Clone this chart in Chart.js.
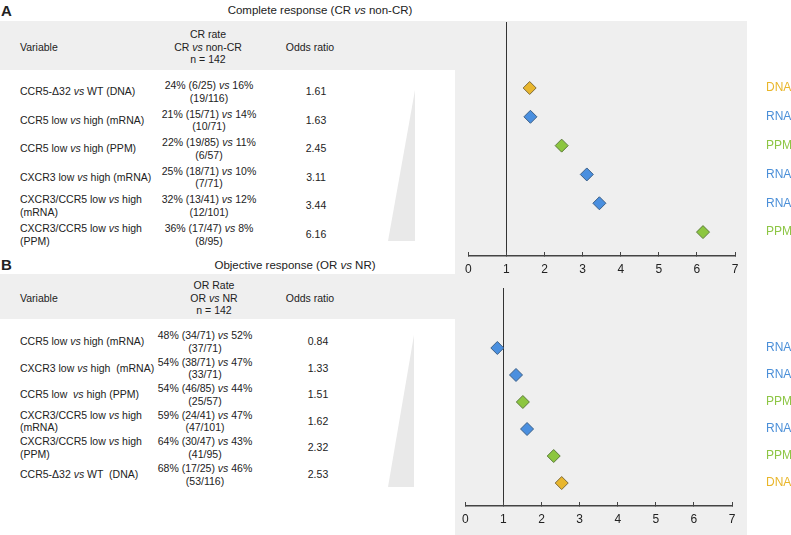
<!DOCTYPE html>
<html>
<head>
<meta charset="utf-8">
<script src="https://cdn.jsdelivr.net/npm/chart.js@4.4.0/dist/chart.umd.min.js"></script>
<style>
  body { margin: 0; background: #fff; font-family: "Liberation Sans", Arial, sans-serif; color: #222; }
  #fig { position: relative; width: 791px; height: 535px; overflow: hidden; }
  .abs { position: absolute; }
  .gray { background: #efefef; }
  .wedge { background: #e9e9e9; }
  .letter { font-weight: bold; font-size: 15px; line-height: 15px; }
  .title { font-size: 11.5px; line-height: 14px; white-space: nowrap; transform: translate(-50%, -50%); }
  .cell { font-size: 10.5px; line-height: 12.5px; white-space: pre; transform: translateY(-50%); }
  .ctr { text-align: center; transform: translate(-50%, -50%); }
  canvas { position: absolute; }
</style>
</head>
<body>
<div id="fig">
  <div class="abs gray" style="left:0;top:21px;width:455px;height:49px"></div>
  <div class="abs gray" style="left:455px;top:21px;width:292px;height:514px"></div>
  <div class="abs gray" style="left:0;top:274px;width:455px;height:45px"></div>
  <div class="abs wedge" style="left:388px;top:90px;width:27px;height:151px;clip-path:polygon(100% 0,100% 100%,0 100%)"></div>
  <div class="abs wedge" style="left:388px;top:335px;width:26px;height:152px;clip-path:polygon(100% 0,100% 100%,0 100%)"></div>

  <div class="abs letter" style="left:1px;top:3px">A</div>
  <div class="abs title" style="left:320px;top:10px">Complete response (CR <i>vs</i> non-CR)</div>
  <div class="abs letter" style="left:1px;top:257px">B</div>
  <div class="abs title" style="left:295px;top:265px">Objective response (OR <i>vs</i> NR)</div>

  <div id="tableA"></div>
  <div id="tableB"></div>
  <canvas id="chartA" width="336" height="264" style="left:455px;top:21px"></canvas>
  <canvas id="chartB" width="339" height="260" style="left:452px;top:275px"></canvas>
</div>
<script>
// panel A: complete response
const variablesA = ['CCR5-\u039432 vs WT (DNA)', 'CCR5 low vs high (mRNA)', 'CCR5 low vs high (PPM)',
  'CXCR3 low vs high (mRNA)', 'CXCR3/CCR5 low vs high\n(mRNA)', 'CXCR3/CCR5 low vs high\n(PPM)'];
const ratesA = ['24% (6/25) vs 16%\n(19/116)', '21% (15/71) vs 14%\n(10/71)', '22% (19/85) vs 11%\n(6/57)',
  '25% (18/71) vs 10%\n(7/71)', '32% (13/41) vs 12%\n(12/101)', '36% (17/47) vs 8%\n(8/95)'];
const oddsA = [1.61, 1.63, 2.45, 3.11, 3.44, 6.16];
const sourcesA = ['DNA', 'RNA', 'PPM', 'RNA', 'RNA', 'PPM'];
const rateHeaderA = 'CR rate\nCR vs non-CR\nn = 142';

// panel B: objective response
const variablesB = ['CCR5 low vs high (mRNA)', 'CXCR3 low vs high  (mRNA)', 'CCR5 low  vs high (PPM)',
  'CXCR3/CCR5 low vs high\n(mRNA)', 'CXCR3/CCR5 low vs high\n(PPM)', 'CCR5-\u039432 vs WT  (DNA)'];
const ratesB = ['48% (34/71) vs 52%\n(37/71)', '54% (38/71) vs 47%\n(33/71)', '54% (46/85) vs 44%\n(25/57)',
  '59% (24/41) vs 47%\n(47/101)', '64% (30/47) vs 43%\n(41/95)', '68% (17/25) vs 46%\n(53/116)'];
const oddsB = [0.84, 1.33, 1.51, 1.62, 2.32, 2.53];
const sourcesB = ['RNA', 'RNA', 'PPM', 'RNA', 'PPM', 'DNA'];
const rateHeaderB = 'OR Rate\nOR vs NR\nn = 142';

const oddsTicks = [0, 1, 2, 3, 4, 5, 6, 7];
const sourceColors = { DNA: '#e8b62e', RNA: '#4a8fdf', PPM: '#8cc63f' };
const labelColors = { DNA: '#e9b62a', RNA: '#4b8fd8', PPM: '#8dc645' };
const edgeColors = { DNA: '#7d6a3a', RNA: '#3c5f86', PPM: '#5b7a3a' };

function fmt(s) {
  return s.replace(/ vs /g, ' <i>vs</i> ');
}

function addCell(parent, text, x, y, centered) {
  var d = document.createElement('div');
  d.className = 'abs cell' + (centered ? ' ctr' : '');
  d.style.left = x + 'px';
  d.style.top = y + 'px';
  d.innerHTML = fmt(text);
  parent.appendChild(d);
}

function buildTable(id, variables, rates, odds, rateHeader, t) {
  var el = document.getElementById(id);
  addCell(el, 'Variable', 20, t.headY, false);
  addCell(el, rateHeader, t.rateHeadX, t.headY, true);
  addCell(el, 'Odds ratio', 310, t.headY, true);
  for (let i = 0; i < variables.length; i++) {
    let y = t.rowY + i * t.pitch;
    addCell(el, variables[i], 20, y, false);
    addCell(el, rates[i], t.rateX, y, true);
    addCell(el, odds[i].toFixed(2), t.orX, y, true);
  }
}

function drawPanel(id, odds, sources, o) {
  var ctx = document.getElementById(id).getContext('2d');
  return new Chart(ctx, {
    type: 'scatter',
    data: {
      datasets: [{
        data: odds.map((v, i) => ({ x: v, y: i + 1 })),
        pointStyle: 'rectRot',
        pointRadius: 6.5,
        pointBackgroundColor: sources.map(s => sourceColors[s]),
        pointBorderColor: sources.map(s => edgeColors[s]),
        pointBorderWidth: 1,
      }],
    },
    options: {
      responsive: false,
      animation: false,
      events: [],
      layout: { autoPadding: false, padding: { top: o.padTop, left: 12, right: 0, bottom: 0 } },
      plugins: { legend: { display: false }, tooltip: { enabled: false } },
      scales: {
        x: {
          type: 'linear',
          min: 0,
          max: 7,
          afterBuildTicks: s => { s.ticks = oddsTicks.map(v => ({ value: v })); },
          afterFit: s => { s.height = o.xHeight; },
          grid: {
            drawOnChartArea: true,
            color: c => (c.tick && c.tick.value === 1) ? '#333' : 'rgba(0,0,0,0)',
            tickColor: '#444',
            tickLength: -4,
            lineWidth: 1,
          },
          border: { display: true, color: '#444', width: 1.5 },
          ticks: { color: '#222', padding: 10, font: { family: 'Liberation Sans', size: 12 } },
        },
        y: {
          type: 'linear',
          position: 'right',
          reverse: true,
          min: o.yMin,
          max: o.yMax,
          afterBuildTicks: s => { s.ticks = sources.map((_, i) => ({ value: i + 1 })); },
          // labels sit far right of the plot; keep that gap out of the vertical padding
          afterFit: s => { s.width = o.yWidth; s.paddingTop = 0; s.paddingBottom = 0; },
          grid: { display: false, drawTicks: false },
          border: { display: false },
          ticks: {
            autoSkip: false,
            padding: o.labelPad,
            color: c => labelColors[sources[c.index]],
            callback: (v, i) => sources[i],
            font: { family: 'Liberation Sans', size: 12 },
          },
        },
      },
    },
  });
}

buildTable('tableA', variablesA, ratesA, oddsA, rateHeaderA,
  { headY: 47, rateHeadX: 208, rateX: 209, orX: 316, rowY: 91, pitch: 28.6 });
buildTable('tableB', variablesB, ratesB, oddsB, rateHeaderB,
  { headY: 298, rateHeadX: 214, rateX: 205, orX: 318, rowY: 341, pitch: 26.6 });

drawPanel('chartA', oddsA, sourcesA, { padTop: 1, xHeight: 29, yMin: -1.29, yMax: 6.83, yWidth: 56, labelPad: 31 });
drawPanel('chartB', oddsB, sourcesB, { padTop: 13, xHeight: 29, yMin: -1.22, yMax: 6.85, yWidth: 59, labelPad: 34 });
</script>
</body>
</html>
